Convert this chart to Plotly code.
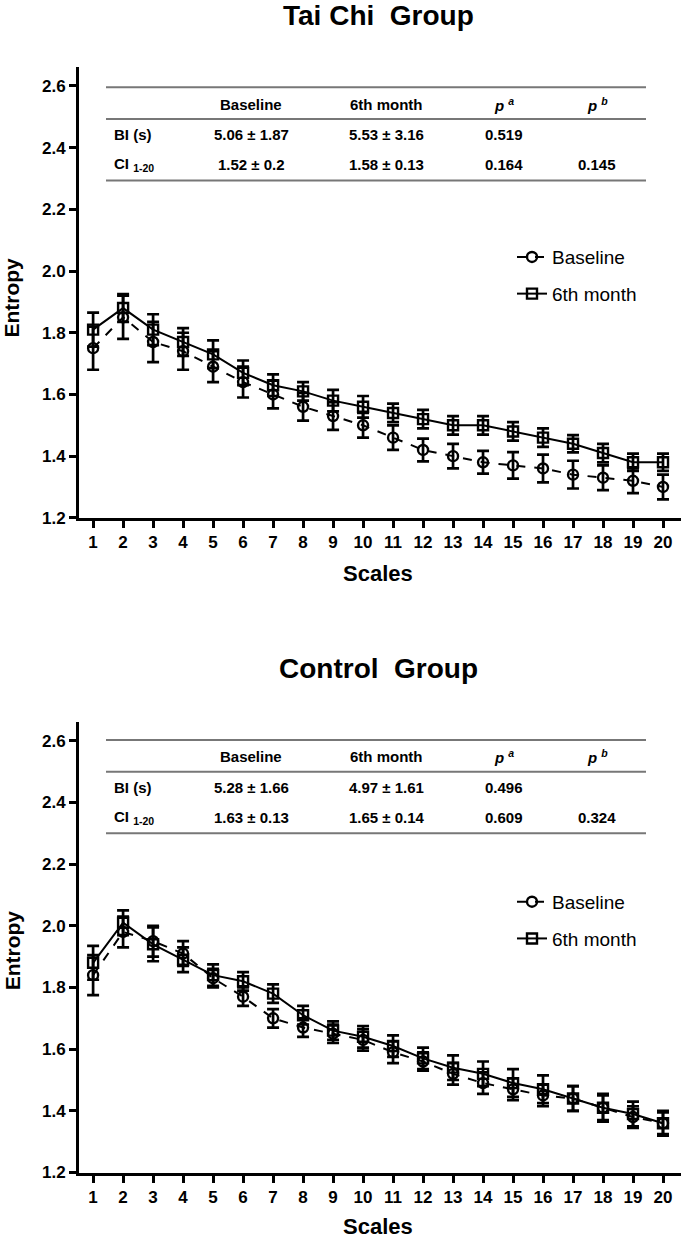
import plotly.graph_objects as go

# x positions (time scales)
scales = list(range(1, 21))

# Tai Chi group
taichi_baseline = [1.75, 1.85, 1.77, 1.74, 1.69, 1.64, 1.60, 1.56, 1.53, 1.50,
                   1.46, 1.42, 1.40, 1.38, 1.37, 1.36, 1.34, 1.33, 1.32, 1.30]
taichi_baseline_err = [0.07, 0.07, 0.065, 0.06, 0.05, 0.05, 0.045, 0.045, 0.045, 0.04,
                       0.04, 0.037, 0.04, 0.037, 0.043, 0.045, 0.045, 0.04, 0.04, 0.04]
taichi_6m = [1.81, 1.88, 1.81, 1.77, 1.73, 1.67, 1.63, 1.61, 1.58, 1.56,
             1.54, 1.52, 1.50, 1.50, 1.48, 1.46, 1.44, 1.41, 1.38, 1.38]
taichi_6m_err = [0.055, 0.045, 0.05, 0.045, 0.045, 0.04, 0.035, 0.03, 0.035, 0.035,
                 0.03, 0.03, 0.03, 0.03, 0.03, 0.03, 0.028, 0.03, 0.028, 0.028]

# Control group
control_baseline = [1.84, 1.98, 1.95, 1.91, 1.83, 1.77, 1.70, 1.67, 1.65, 1.63,
                    1.59, 1.56, 1.52, 1.49, 1.47, 1.45, 1.44, 1.41, 1.38, 1.36]
control_baseline_err = [0.065, 0.05, 0.05, 0.04, 0.03, 0.03, 0.03, 0.03, 0.03, 0.035,
                        0.035, 0.03, 0.035, 0.035, 0.035, 0.035, 0.04, 0.045, 0.035, 0.035]
control_6m = [1.88, 2.01, 1.94, 1.89, 1.84, 1.82, 1.78, 1.71, 1.66, 1.64,
              1.61, 1.57, 1.54, 1.52, 1.49, 1.47, 1.44, 1.41, 1.39, 1.36]
control_6m_err = [0.055, 0.04, 0.055, 0.04, 0.035, 0.03, 0.03, 0.03, 0.03, 0.035,
                  0.035, 0.035, 0.04, 0.04, 0.045, 0.045, 0.04, 0.04, 0.04, 0.04]

# summary tables
table_header = ["Baseline", "6th month", "<i>p</i> <sup><i>a</i></sup>", "<i>p</i> <sup><i>b</i></sup>"]
row_labels = ["BI (s)", "CI <sub>1-20</sub>"]
taichi_table = [["5.06 ± 1.87", "5.53 ± 3.16", "0.519", ""],
                ["1.52 ± 0.2", "1.58 ± 0.13", "0.164", "0.145"]]
control_table = [["5.28 ± 1.66", "4.97 ± 1.61", "0.496", ""],
                 ["1.63 ± 0.13", "1.65 ± 0.14", "0.609", "0.324"]]

W, H = 685, 1250
BOLD = "Liberation Sans"
col_x = [251, 387, 504, 597]


def py(p):
    return 1 - p / H


def px(p):
    return p / W


fig = go.Figure()


def add_group(base, base_err, sixm, sixm_err, xa, ya, legend):
    fig.add_trace(go.Scatter(
        x=scales, y=base, name="Baseline", mode="lines+markers",
        xaxis=xa, yaxis=ya, legend=legend, legendgroup=legend + "b",
        line=dict(color="black", width=2, dash="dash"),
        marker=dict(symbol="circle-open", size=10, color="black", line=dict(width=2.4)),
        error_y=dict(type="data", array=base_err, color="black", thickness=2.7, width=6)
    ))
    fig.add_trace(go.Scatter(
        x=scales, y=sixm, name="6th month", mode="lines+markers",
        xaxis=xa, yaxis=ya, legend=legend, legendgroup=legend + "s",
        line=dict(color="black", width=2),
        marker=dict(symbol="square-open", size=10, color="black", line=dict(width=2.4)),
        error_y=dict(type="data", array=sixm_err, color="black", thickness=2.7, width=6)
    ))


add_group(taichi_baseline, taichi_baseline_err, taichi_6m, taichi_6m_err, "x", "y", "legend")
add_group(control_baseline, control_baseline_err, control_6m, control_6m_err, "x2", "y2", "legend2")

shapes = []
annotations = []


def note(x, y, text, size, xanchor="center", yanchor="middle", angle=0):
    annotations.append(dict(x=px(x), y=py(y), text=text, showarrow=False,
                            xref="paper", yref="paper", xanchor=xanchor, yanchor=yanchor,
                            textangle=angle,
                            font=dict(family=BOLD, size=size, color="black", weight="bold")))


def add_table(title, rows, off):
    # horizontal rules
    for yy in [88, 120, 182]:
        shapes.append(dict(type="line", xref="paper", yref="paper",
                           x0=px(106), x1=px(646), y0=py(yy + off), y1=py(yy + off),
                           line=dict(color="#777777", width=2)))
    for cx, txt in zip(col_x, table_header):
        note(cx, 105 + off, txt, 15)
    for ry, lab, vals in zip([136, 166], row_labels, rows):
        note(112, ry + off, lab, 15, xanchor="left")
        for cx, v in zip(col_x, vals):
            if v:
                note(cx, ry + off, v, 15)
    note(378, 16 + off, title, 28)
    note(378, 578 + off, "Scales", 22)
    note(12, 300 + off, "Entropy", 21, angle=-90)


add_table("Tai Chi\u00a0 Group", taichi_table, 0)
add_table("Control\u00a0 Group", control_table, 658)

xaxis_style = dict(
    range=[0.53, 20.6], tickvals=scales, showgrid=False, zeroline=False,
    showline=True, linecolor="black", linewidth=3,
    ticks="outside", ticklen=7, tickwidth=2.5, tickcolor="black",
    tickfont=dict(family=BOLD, size=17, color="black", weight="bold"),
    domain=[px(79), px(681)]
)
yaxis_style = dict(
    range=[1.2, 2.66], tickvals=[1.2, 1.4, 1.6, 1.8, 2.0, 2.2, 2.4, 2.6], tickformat=".1f",
    showgrid=False, zeroline=False,
    showline=True, linecolor="black", linewidth=3,
    ticks="outside", ticklen=7, tickwidth=2.5, tickcolor="black",
    tickfont=dict(family=BOLD, size=17, color="black", weight="bold"),
)

legend_style = dict(
    xref="paper", yref="paper", xanchor="left", yanchor="top",
    font=dict(family="Liberation Sans", size=19, color="black"),
    bgcolor="rgba(0,0,0,0)", tracegroupgap=9, itemwidth=30,
)

fig.update_layout(
    width=W, height=H,
    margin=dict(l=0, r=0, t=0, b=0),
    paper_bgcolor="white", plot_bgcolor="white",
    xaxis=dict(**xaxis_style, anchor="y"),
    yaxis=dict(**yaxis_style, domain=[py(522), py(68)], anchor="x"),
    xaxis2=dict(**xaxis_style, anchor="y2"),
    yaxis2=dict(**yaxis_style, domain=[py(1182), py(728)], anchor="x2"),
    legend=dict(**legend_style, x=px(512), y=py(240)),
    legend2=dict(**legend_style, x=px(512), y=py(890)),
    shapes=shapes,
    annotations=annotations,
    showlegend=True,
)

# drop the default page margin so the figure sits at the window's corner
fig.write_html("out.html", config={"displayModeBar": False},
               post_script="document.body.style.margin='0px';")
